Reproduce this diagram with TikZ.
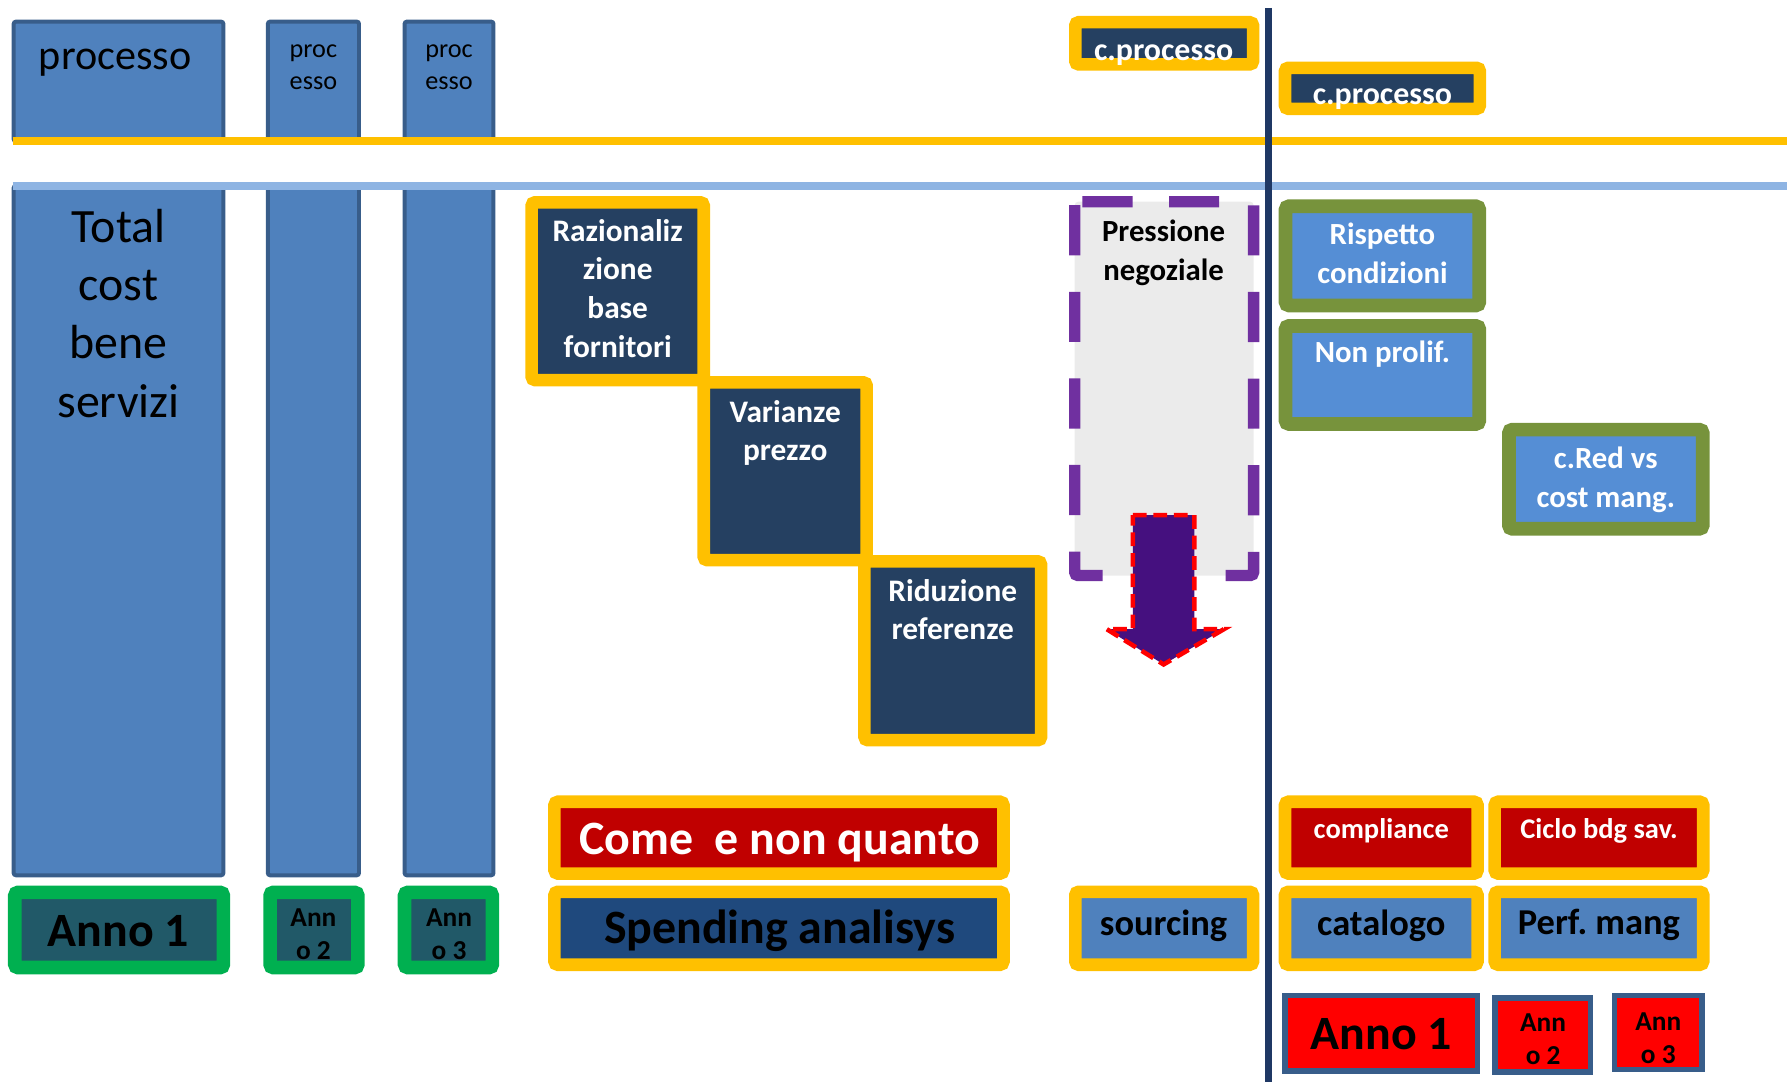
\documentclass[tikz,border=0pt]{standalone}
\usepackage{fontspec}
\setmainfont{Carlito}
\usepackage{tikz}
\usetikzlibrary{positioning}
\frenchspacing
\definecolor{barblue}{HTML}{4F81BD}
\definecolor{barline}{HTML}{385D8A}
\definecolor{goldy}{HTML}{FFC000}
\definecolor{skyline}{HTML}{8EB4E3}
\definecolor{navy}{HTML}{254061}
\definecolor{tealbox}{HTML}{215968}
\definecolor{greeny}{HTML}{00B050}
\definecolor{olivey}{HTML}{77933C}
\definecolor{lightbl}{HTML}{558ED5}
\definecolor{darkred}{HTML}{C00000}
\definecolor{spendbl}{HTML}{1F497D}
\definecolor{vline}{HTML}{1F3864}
\definecolor{purp}{HTML}{7030A0}
\definecolor{arrowpurp}{HTML}{45107F}
\newcommand{\fsz}[2]{\fontsize{#1}{#2}\selectfont}
\tikzset{
  bar/.style={fill=barblue, draw=barline, line width=3.5pt, rounded corners=2pt},
  yframe/.style={draw=goldy, line width=11pt, rounded corners=3pt},
  gframe/.style={draw=greeny, line width=12pt, rounded corners=3pt, fill=tealbox},
  oframe/.style={draw=olivey, line width=12pt, rounded corners=3pt, fill=lightbl},
  redyear/.style={draw=barline, line width=5pt, fill=red},
  lab/.style={inner sep=0pt, align=center},
}
\begin{document}
\begin{tikzpicture}[x=1pt,y=-1pt]
\useasboundingbox (0,0) rectangle (1568,949);
% anni: colonne processo
\draw[bar] (12,19) rectangle (196,124);
\draw[bar] (235,19) rectangle (315,124);
\draw[bar] (355,19) rectangle (433,124);
\draw[bar] (12,163) rectangle (196,768);
\draw[bar] (235,163) rectangle (315,768);
\draw[bar] (355,163) rectangle (433,768);
\draw[goldy, line width=7pt] (11,123.5) -- (1568,123.5);
\draw[skyline, line width=7pt] (11,163) -- (1568,163);
\node[lab, font=\fsz{37}{44}] (proc1) at (101,55) {processo};
\node[lab, font=\fsz{23}{28}] (proc2) at (275,59) {proc\\esso};
\node[lab, font=\fsz{23}{28}] (proc3) at (394,59) {proc\\esso};
\node[lab, font=\fsz{42}{51}] (total) at (104,275) {Total\\cost\\bene\\servizi};
\draw[gframe] (13,783) rectangle (196,849);
\draw[gframe] (237,783) rectangle (314,849);
\draw[gframe] (355,783) rectangle (432,849);
\node[lab, font=\fsz{42}{50}\bfseries] (annoA) at (104,817) {Anno 1};
\node[lab, font=\fsz{24}{29}\bfseries] (annoB) at (275,820) {Ann\\o 2};
\node[lab, font=\fsz{24}{29}\bfseries] (annoC) at (394,820) {Ann\\o 3};
% leve a gradini
\draw[yframe, fill=navy] (466.5,177.5) rectangle (617.5,333.5);
\draw[yframe, fill=navy] (617.5,335.5) rectangle (760.5,491.5);
\draw[yframe, fill=navy] (758.5,492.5) rectangle (913.5,649.5);
\node[lab, white, font=\fsz{27.5}{34}\bfseries] (raz) at (542,253) {Razionaliz\\zione\\base\\fornitori};
\node[lab, white, font=\fsz{27.5}{34}\bfseries] (var) at (689,380) {Varianze\\prezzo};
\node[lab, white, font=\fsz{27.5}{34}\bfseries] (rid) at (836,535) {Riduzione\\referenze};
\draw[yframe, fill=darkred] (486.5,703.5) rectangle (880.5,766.5);
\draw[yframe, fill=spendbl] (486.5,782.5) rectangle (880.5,846.5);
\node[lab, white, font=\fsz{42}{50}\bfseries] (come) at (684,739) {Come\ \ e non quanto};
\node[lab, font=\fsz{42}{50}\bfseries] (spend) at (684,817) {Spending analisys};
% pressione negoziale
\draw[yframe, fill=navy] (943.5,19.5) rectangle (1099.5,56.5);
\node[lab, white, anchor=base, font=\fsz{28}{34}\bfseries] (cproc1) at (1021,53) {c.processo};
\draw[purp, line width=10pt, dash pattern=on 44pt off 32pt, rounded corners=3pt, fill=black!8] (943,177) rectangle (1100,505);
\node[lab, font=\fsz{27}{34}\bfseries] (press) at (1021,222) {Pressione\\negoziale};
\draw[red, line width=4pt, dash pattern=on 12pt off 6pt, fill=arrowpurp] (994,452) -- (1048,452) -- (1048,552) -- (1074,552) -- (1021,583) -- (971,552) -- (994,552) -- cycle;
\draw[yframe, fill=barblue] (943.5,782.5) rectangle (1099.5,846.5);
\node[lab, font=\fsz{32}{38}\bfseries] (sourc) at (1021,812) {sourcing};
% separatore
\draw[vline, line width=6pt] (1113,7) -- (1113,949);
% lato destro
\draw[yframe, fill=navy] (1127.5,59.5) rectangle (1298.5,95.5);
\node[lab, white, anchor=base, font=\fsz{28}{34}\bfseries] (cproc2) at (1213,92) {c.processo};
\draw[oframe] (1128,181) rectangle (1298,268);
\draw[oframe] (1128,286) rectangle (1298,372);
\draw[oframe] (1324,377) rectangle (1494,464);
\node[lab, white, font=\fsz{27}{34}\bfseries] (risp) at (1213,222) {Rispetto\\condizioni};
\node[lab, white, font=\fsz{27}{34}\bfseries] (nonp) at (1213,311) {Non prolif.};
\node[lab, white, font=\fsz{27}{34}\bfseries] (cred) at (1409,421) {c.Red vs\\cost mang.};
\draw[yframe, fill=darkred] (1127.5,703.5) rectangle (1296.5,766.5);
\draw[yframe, fill=darkred] (1311.5,703.5) rectangle (1494.5,766.5);
\draw[yframe, fill=barblue] (1127.5,782.5) rectangle (1296.5,846.5);
\draw[yframe, fill=barblue] (1311.5,782.5) rectangle (1494.5,846.5);
\node[lab, white, font=\fsz{25}{30}\bfseries] (compl) at (1212,729) {compliance};
\node[lab, white, font=\fsz{25}{30}\bfseries] (ciclo) at (1403,729) {Ciclo bdg sav.};
\node[lab, font=\fsz{32}{38}\bfseries] (catal) at (1212,812) {catalogo};
\node[lab, font=\fsz{32}{38}\bfseries] (perf) at (1403,812) {Perf. mang};
\draw[redyear] (1127.5,873.5) rectangle (1296.5,939.5);
\draw[redyear] (1311.5,875.5) rectangle (1395.5,940.5);
\draw[redyear] (1416.5,873.5) rectangle (1493.5,938.5);
\node[lab, font=\fsz{42}{50}\bfseries] (annoD) at (1212,907) {Anno 1};
\node[lab, font=\fsz{24}{29}\bfseries] (annoE) at (1354,912) {Ann\\o 2};
\node[lab, font=\fsz{24}{29}\bfseries] (annoF) at (1455,911) {Ann\\o 3};
\end{tikzpicture}
\end{document}
